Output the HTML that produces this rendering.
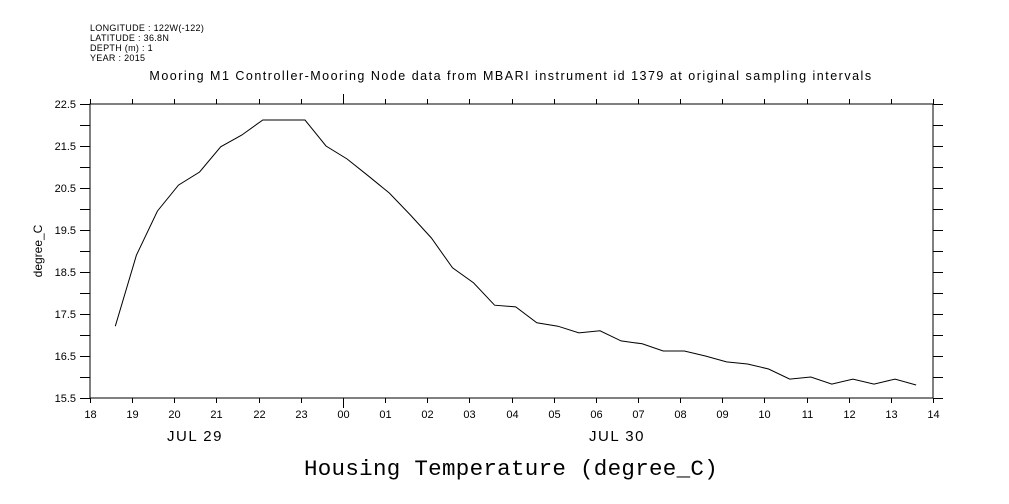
<!DOCTYPE html>
<html><head><meta charset="utf-8"><style>
body{margin:0;background:#fff;}
svg{display:block;font-family:"Liberation Sans",sans-serif;}
</style></head><body>
<svg id="chart" width="1009" height="504" viewBox="0 0 1009 504">
<g font-size="9" fill="#000" letter-spacing="0.3">
<text x="90" y="31">LONGITUDE : 122W(-122)</text>
<text x="90" y="41">LATITUDE : 36.8N</text>
<text x="90" y="51">DEPTH (m) : 1</text>
<text x="90" y="61">YEAR : 2015</text>
</g>
<text x="511" y="80" font-size="12.5" text-anchor="middle" letter-spacing="1.5">Mooring M1 Controller-Mooring Node data from MBARI instrument id 1379 at original sampling intervals</text>
<text x="511" y="475" font-size="22.5" text-anchor="middle" letter-spacing="0.3" font-family="Liberation Mono, monospace">Housing Temperature (degree_C)</text>
<text transform="translate(42,251) rotate(-90)" font-size="12" text-anchor="middle">degree_C</text>
<text x="195" y="441" font-size="15" letter-spacing="1.5" text-anchor="middle">JUL 29</text>
<text x="617" y="441" font-size="15" letter-spacing="1.5" text-anchor="middle">JUL 30</text>
<rect x="90" y="104" width="843" height="294" fill="none" stroke="#000" stroke-width="1"/>
<g id="axes"></g>
<polyline id="series" fill="none" stroke="#000" stroke-width="1"/>
</svg>
<script>
const hourLabels=["18","19","20","21","22","23","00","01","02","03","04","05","06","07","08","09","10","11","12","13","14"];
const yTickLabels=["22.5","21.5","20.5","19.5","18.5","17.5","16.5","15.5"];
const times=[0.6,1.1,1.6,2.1,2.6,3.1,3.6,4.1,4.6,5.1,5.6,6.1,6.6,7.1,7.6,8.1,8.6,9.1,9.6,10.1,10.6,11.1,11.6,12.1,12.6,13.1,13.6,14.1,14.6,15.1,15.6,16.1,16.6,17.1,17.6,18.1,18.6,19.1,19.6];
const temps=[17.21,18.9,19.95,20.57,20.88,21.48,21.76,22.12,22.12,22.12,21.5,21.19,20.79,20.38,19.86,19.31,18.6,18.24,17.71,17.67,17.29,17.21,17.05,17.1,16.86,16.79,16.62,16.62,16.5,16.36,16.31,16.19,15.95,16.0,15.83,15.95,15.83,15.95,15.81];
const X0=90,X1=933,Y0=398,Y1=104;
const xs=h=>X0+(h/20)*(X1-X0);
const ys=t=>Y0-(t-15.5)/7*(Y0-Y1);
const NS="http://www.w3.org/2000/svg";
const g=document.getElementById('axes');
function line(x1,y1,x2,y2,name){const l=document.createElementNS(NS,'line');l.setAttribute('x1',x1);l.setAttribute('y1',y1);l.setAttribute('x2',x2);l.setAttribute('y2',y2);l.setAttribute('stroke','#000');


g.appendChild(l);}
function text(x,y,s,anchor,name){const t=document.createElementNS(NS,'text');t.setAttribute('x',x);t.setAttribute('y',y);t.setAttribute('font-size','11');t.setAttribute('text-anchor',anchor);t.textContent=s;


g.appendChild(t);}
hourLabels.forEach((s,i)=>{const x=Math.round(xs(i))+0.5;const big=s==="00";
line(x,Y0,x,Y0+(big?10:5),'x-tick');line(x,Y1,x,Y1-(big?10:5),'x-tick-top');
text(x,418,s,'middle','x-tick-label');});
for(let k=0;k<=14;k++){const v=15.5+k*0.5;const y=Math.round(ys(v))+0.5;
line(X0-10,y,X0,y,'y-tick');line(X1,y,X1+10,y,'y-tick-right');}
yTickLabels.forEach(s=>{const y=ys(parseFloat(s));text(76,y+4,s,'end','y-tick-label');});
document.getElementById('series').setAttribute('points',times.map((h,i)=>xs(h).toFixed(1)+','+ys(temps[i]).toFixed(1)).join(' '));
</script>
</body></html>
